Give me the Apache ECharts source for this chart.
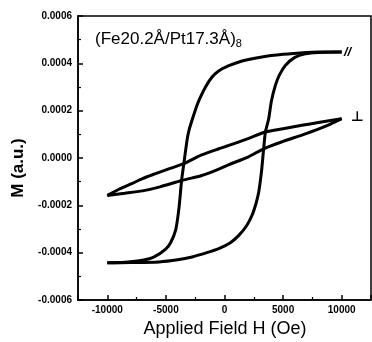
<!DOCTYPE html>
<html>
<head>
<meta charset="utf-8">
<script src="https://cdn.jsdelivr.net/npm/echarts@6/dist/echarts.min.js"></script>
<style>
  html, body { margin: 0; padding: 0; background: #fff; }
  #chart { width: 372px; height: 342px; }
</style>
</head>
<body>
<div id="chart"></div>
<script>
// in-plane (//) loop, field sweep from +H down to -H
const parDownH = [10000, 8000, 7000, 5000, 3200, 1500, 370, -500, -1060, -1620, -2190, -2470, -2800, -3040, -3180, -3470, -3660, -3890, -4170, -4600, -5020, -6000, -7000, -8500, -10000];
const parDownM = [448, 448, 446, 438, 427, 410, 390, 368, 342, 300, 242, 205, 155, 115, 80, -24, -95, -214, -305, -358, -385, -418, -432, -440, -443];
// in-plane loop, sweep from -H up to +H
const parUpH = [-10000, -8000, -5590, -4000, -2760, -1500, -490, 500, 1220, 1900, 2350, 2700, 2920, 3150, 3340, 3490, 3770, 4000, 4340, 4700, 5190, 6000, 6890, 8000, 10000];
const parUpM = [-443, -442, -439, -430, -418, -400, -383, -358, -327, -285, -242, -190, -144, -60, 39, 110, 166, 240, 307, 352, 391, 425, 440, 446, 448];
// perpendicular loop
const perpDownH = [10000, 8000, 6600, 5000, 3490, 2000, 370, -490, -2000, -3470, -4700, -5870, -7000, -7860, -9000, -10000];
const perpDownM = [166, 150, 138, 124, 110, 82, 53, 39, 12, -24, -45, -66, -87, -107, -132, -158];
const perpUpH = [-10000, -8500, -7000, -5500, -3660, -2000, -1340, -490, 370, 2000, 3340, 5000, 6600, 8000, 9000, 10000];
const perpUpM = [-158, -149, -139, -122, -95, -75, -64, -47, -28, 4, 39, 70, 97, 122, 142, 166];

const xTickLabels = [-10000, -5000, 0, 5000, 10000];

// values above are in units of 1e-6
const pairs = (hs, ms) => hs.map((h, i) => [h, ms[i] * 1e-6]);

const FONT = "'Liberation Sans', Arial, sans-serif";

const curve = (data) => ({
  type: "line",
  data: data,
  symbol: "none",
  smooth: 0.25,
  lineStyle: { color: "#000", width: 3 },
  silent: true,
});

const chart = echarts.init(document.getElementById("chart"), null, { renderer: "canvas" });

chart.setOption({
  animation: false,
  backgroundColor: "#fff",
  grid: {
    left: 78, right: 1, top: 16, bottom: 42,
    show: true, borderColor: "#000", borderWidth: 1.5,
  },
  xAxis: {
    type: "value",
    min: -12500,
    max: 12500,
    splitNumber: 5,
    axisLine: { onZero: false, lineStyle: { color: "#000", width: 1.5 } },
    axisTick: { inside: true, length: 5, lineStyle: { color: "#000", width: 1.5 } },
    minorTick: { show: true, splitNumber: 2, length: 3, lineStyle: { color: "#000", width: 1.2 } },
    splitLine: { show: false },
    axisLabel: {
      color: "#000", fontFamily: FONT, fontWeight: "bold", fontSize: 10, margin: 5,
      showMinLabel: false, showMaxLabel: false,
      formatter: (v) => (xTickLabels.includes(v) ? String(v) : ""),
    },
  },
  yAxis: {
    type: "value",
    min: -0.0006,
    max: 0.0006,
    interval: 0.0002,
    axisLine: { onZero: false, lineStyle: { color: "#000", width: 1.5 } },
    axisTick: { inside: true, length: 5, lineStyle: { color: "#000", width: 1.5 } },
    minorTick: { show: true, splitNumber: 2, length: 3, lineStyle: { color: "#000", width: 1.2 } },
    splitLine: { show: false },
    axisLabel: {
      color: "#000", fontFamily: FONT, fontWeight: "bold", fontSize: 10, margin: 6,
      formatter: (v) => (Math.abs(v) < 1e-9 ? "0.0000" : v.toFixed(4)),
    },
  },
  graphic: [
    {
      type: "text", left: 95, top: 31,
      style: {
        text: "{a|(Fe20.2Å/Pt17.3Å)}{s|8}",
        rich: {
          a: { fontFamily: FONT, fontSize: 17, fill: "#000" },
          s: { fontFamily: FONT, fontSize: 11, fill: "#000", padding: [9, 0, 0, 0] },
        },
      },
    },
    {
      type: "text", left: 344, top: 46,
      style: { text: "//", font: "italic bold 13px " + FONT, fill: "#000" },
    },
    {
      type: "text", left: 351, top: 110,
      style: { text: "⊥", font: "bold 14px 'DejaVu Sans', sans-serif", fill: "#000" },
    },
    {
      type: "text", x: 18, y: 168, rotation: Math.PI / 2,
      style: {
        text: "M (a.u.)", font: "bold 17px " + FONT, fill: "#000",
        align: "center", verticalAlign: "middle",
      },
    },
    {
      type: "text", x: 225, y: 329,
      style: {
        text: "Applied Field H (Oe)", font: "18px " + FONT, fill: "#000",
        align: "center", verticalAlign: "middle",
      },
    },
  ],
  series: [
    curve(pairs(parDownH, parDownM)),
    curve(pairs(parUpH, parUpM)),
    curve(pairs(perpDownH, perpDownM)),
    curve(pairs(perpUpH, perpUpM)),
  ],
});
</script>
</body>
</html>
